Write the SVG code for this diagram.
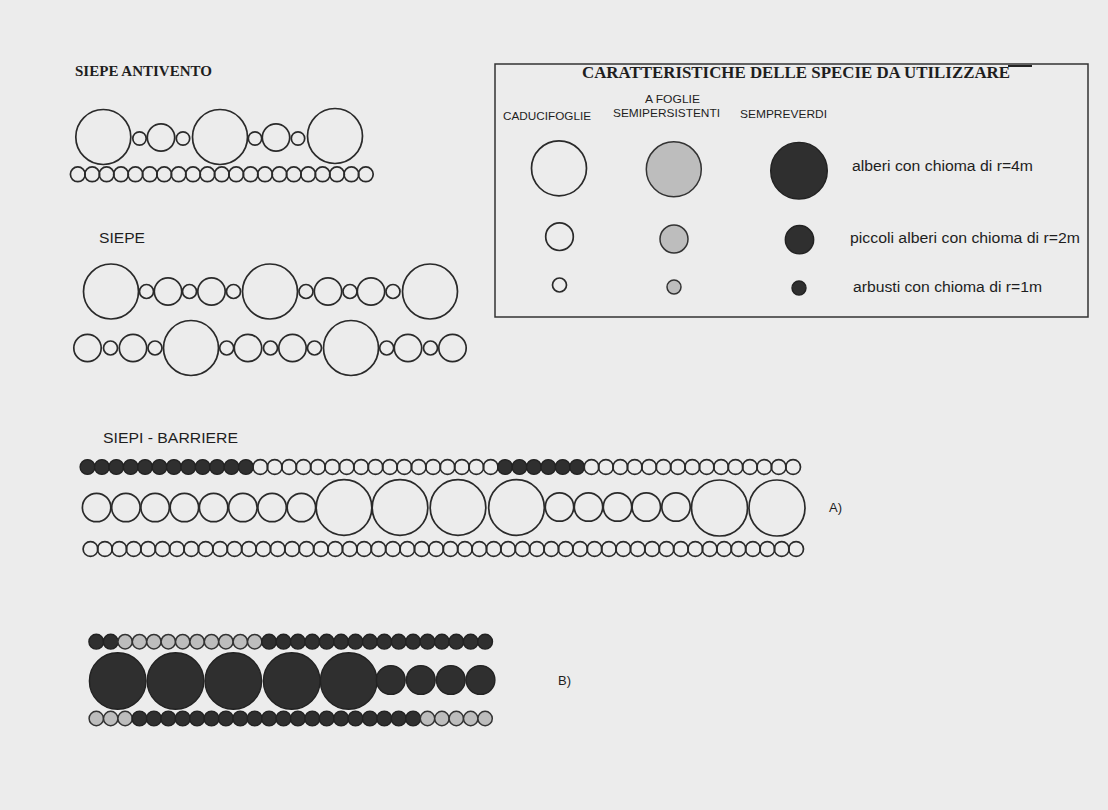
<svg xmlns="http://www.w3.org/2000/svg" width="1108" height="810" viewBox="0 0 1108 810">
<style>
.o{fill:none;stroke:#2a2a2a;stroke-width:1.7}
.d{fill:#2f2f2f;stroke:#222;stroke-width:1.4}
.g{fill:#bdbdbd;stroke:#333;stroke-width:1.5}
.sans{font-family:"Liberation Sans",Arial,sans-serif;fill:#1e1e1e}
.serif{font-family:"Liberation Serif","Times New Roman",serif;fill:#1e1e1e}
</style>
<rect width="1108" height="810" fill="#ececec"/>

<g id="siepe-antivento">
<text class="serif" x="75" y="76" font-size="15" font-weight="bold" textLength="137" lengthAdjust="spacingAndGlyphs">SIEPE ANTIVENTO</text>
<circle class="o" cx="103.3" cy="137" r="27.5"/><circle class="o" cx="220" cy="137" r="27.5"/><circle class="o" cx="335" cy="136" r="27.5"/>
<circle class="o" cx="139.5" cy="138.5" r="6.7"/><circle class="o" cx="183" cy="138.5" r="6.7"/><circle class="o" cx="255" cy="138.5" r="6.7"/><circle class="o" cx="298" cy="138.5" r="6.7"/>
<circle class="o" cx="161" cy="137.5" r="13.7"/><circle class="o" cx="276" cy="137.5" r="13.7"/>
<circle class="o" cx="77.8" cy="174.3" r="7.4"/><circle class="o" cx="92.2" cy="174.3" r="7.4"/><circle class="o" cx="106.6" cy="174.3" r="7.4"/><circle class="o" cx="121" cy="174.3" r="7.4"/><circle class="o" cx="135.4" cy="174.3" r="7.4"/><circle class="o" cx="149.8" cy="174.3" r="7.4"/><circle class="o" cx="164.2" cy="174.3" r="7.4"/><circle class="o" cx="178.6" cy="174.3" r="7.4"/><circle class="o" cx="193" cy="174.3" r="7.4"/><circle class="o" cx="207.4" cy="174.3" r="7.4"/><circle class="o" cx="221.8" cy="174.3" r="7.4"/><circle class="o" cx="236.2" cy="174.3" r="7.4"/><circle class="o" cx="250.6" cy="174.3" r="7.4"/><circle class="o" cx="265" cy="174.3" r="7.4"/><circle class="o" cx="279.4" cy="174.3" r="7.4"/><circle class="o" cx="293.8" cy="174.3" r="7.4"/><circle class="o" cx="308.2" cy="174.3" r="7.4"/><circle class="o" cx="322.6" cy="174.3" r="7.4"/><circle class="o" cx="337" cy="174.3" r="7.4"/><circle class="o" cx="351.4" cy="174.3" r="7.4"/><circle class="o" cx="365.8" cy="174.3" r="7.4"/>
</g>

<g id="siepe">
<text class="sans" x="99" y="243" font-size="15" textLength="46" lengthAdjust="spacingAndGlyphs">SIEPE</text>
<circle class="o" cx="111" cy="291.5" r="27.5"/><circle class="o" cx="270" cy="291.5" r="27.5"/><circle class="o" cx="430" cy="291.5" r="27.5"/>
<circle class="o" cx="146.5" cy="291.5" r="7"/><circle class="o" cx="189.5" cy="291.5" r="7"/><circle class="o" cx="233.5" cy="291.5" r="7"/><circle class="o" cx="306" cy="291.5" r="7"/><circle class="o" cx="350" cy="291.5" r="7"/><circle class="o" cx="393" cy="291.5" r="7"/>
<circle class="o" cx="168" cy="291.5" r="13.7"/><circle class="o" cx="211.5" cy="291.5" r="13.7"/><circle class="o" cx="328" cy="291.5" r="13.7"/><circle class="o" cx="371" cy="291.5" r="13.7"/>
<circle class="o" cx="87.5" cy="348" r="13.7"/><circle class="o" cx="133" cy="348" r="13.7"/><circle class="o" cx="248" cy="348" r="13.7"/><circle class="o" cx="292.5" cy="348" r="13.7"/><circle class="o" cx="408" cy="348" r="13.7"/><circle class="o" cx="452.5" cy="348" r="13.7"/>
<circle class="o" cx="110.5" cy="348" r="7"/><circle class="o" cx="155" cy="348" r="7"/><circle class="o" cx="226.7" cy="348" r="7"/><circle class="o" cx="270.5" cy="348" r="7"/><circle class="o" cx="314.5" cy="348" r="7"/><circle class="o" cx="386.7" cy="348" r="7"/><circle class="o" cx="430.5" cy="348" r="7"/>
<circle class="o" cx="191" cy="348" r="27.5"/><circle class="o" cx="351" cy="348" r="27.5"/>
</g>

<g id="siepi-barriere-A">
<text class="sans" x="103" y="443" font-size="14" textLength="135" lengthAdjust="spacingAndGlyphs">SIEPI - BARRIERE</text>
<circle class="d" cx="87.5" cy="467" r="7.4"/><circle class="d" cx="101.9" cy="467" r="7.4"/><circle class="d" cx="116.3" cy="467" r="7.4"/><circle class="d" cx="130.7" cy="467" r="7.4"/><circle class="d" cx="145.1" cy="467" r="7.4"/><circle class="d" cx="159.5" cy="467" r="7.4"/><circle class="d" cx="173.9" cy="467" r="7.4"/><circle class="d" cx="188.3" cy="467" r="7.4"/><circle class="d" cx="202.7" cy="467" r="7.4"/><circle class="d" cx="217.1" cy="467" r="7.4"/><circle class="d" cx="231.5" cy="467" r="7.4"/><circle class="d" cx="245.9" cy="467" r="7.4"/>
<circle class="o" cx="260.3" cy="467" r="7.4"/><circle class="o" cx="274.7" cy="467" r="7.4"/><circle class="o" cx="289.1" cy="467" r="7.4"/><circle class="o" cx="303.5" cy="467" r="7.4"/><circle class="o" cx="317.9" cy="467" r="7.4"/><circle class="o" cx="332.3" cy="467" r="7.4"/><circle class="o" cx="346.7" cy="467" r="7.4"/><circle class="o" cx="361.1" cy="467" r="7.4"/><circle class="o" cx="375.5" cy="467" r="7.4"/><circle class="o" cx="389.9" cy="467" r="7.4"/><circle class="o" cx="404.3" cy="467" r="7.4"/><circle class="o" cx="418.7" cy="467" r="7.4"/><circle class="o" cx="433.1" cy="467" r="7.4"/><circle class="o" cx="447.5" cy="467" r="7.4"/><circle class="o" cx="461.9" cy="467" r="7.4"/><circle class="o" cx="476.3" cy="467" r="7.4"/><circle class="o" cx="490.7" cy="467" r="7.4"/>
<circle class="d" cx="505.1" cy="467" r="7.4"/><circle class="d" cx="519.5" cy="467" r="7.4"/><circle class="d" cx="533.9" cy="467" r="7.4"/><circle class="d" cx="548.3" cy="467" r="7.4"/><circle class="d" cx="562.7" cy="467" r="7.4"/><circle class="d" cx="577.1" cy="467" r="7.4"/>
<circle class="o" cx="591.5" cy="467" r="7.4"/><circle class="o" cx="605.9" cy="467" r="7.4"/><circle class="o" cx="620.3" cy="467" r="7.4"/><circle class="o" cx="634.7" cy="467" r="7.4"/><circle class="o" cx="649.1" cy="467" r="7.4"/><circle class="o" cx="663.5" cy="467" r="7.4"/><circle class="o" cx="677.9" cy="467" r="7.4"/><circle class="o" cx="692.3" cy="467" r="7.4"/><circle class="o" cx="706.7" cy="467" r="7.4"/><circle class="o" cx="721.1" cy="467" r="7.4"/><circle class="o" cx="735.5" cy="467" r="7.4"/><circle class="o" cx="749.9" cy="467" r="7.4"/><circle class="o" cx="764.3" cy="467" r="7.4"/><circle class="o" cx="778.7" cy="467" r="7.4"/><circle class="o" cx="793.1" cy="467" r="7.4"/>
<circle class="o" cx="96.6" cy="507.5" r="14.2"/><circle class="o" cx="125.9" cy="507.5" r="14.2"/><circle class="o" cx="155.1" cy="507.5" r="14.2"/><circle class="o" cx="184.4" cy="507.5" r="14.2"/><circle class="o" cx="213.6" cy="507.5" r="14.2"/><circle class="o" cx="242.9" cy="507.5" r="14.2"/><circle class="o" cx="272.1" cy="507.5" r="14.2"/><circle class="o" cx="301.4" cy="507.5" r="14.2"/>
<circle class="o" cx="344" cy="507.5" r="27.8"/><circle class="o" cx="400" cy="507.5" r="27.8"/><circle class="o" cx="458" cy="507.5" r="27.8"/><circle class="o" cx="516.5" cy="507.5" r="27.8"/>
<circle class="o" cx="559.5" cy="507" r="14.2"/><circle class="o" cx="588.5" cy="507" r="14.2"/><circle class="o" cx="617.5" cy="507" r="14.2"/><circle class="o" cx="646.3" cy="507" r="14.2"/><circle class="o" cx="676" cy="507" r="14.2"/>
<circle class="o" cx="719.5" cy="508" r="28"/><circle class="o" cx="777" cy="508" r="28"/>
<circle class="o" cx="90.5" cy="549" r="7.4"/><circle class="o" cx="104.9" cy="549" r="7.4"/><circle class="o" cx="119.3" cy="549" r="7.4"/><circle class="o" cx="133.7" cy="549" r="7.4"/><circle class="o" cx="148.1" cy="549" r="7.4"/><circle class="o" cx="162.5" cy="549" r="7.4"/><circle class="o" cx="176.9" cy="549" r="7.4"/><circle class="o" cx="191.3" cy="549" r="7.4"/><circle class="o" cx="205.7" cy="549" r="7.4"/><circle class="o" cx="220.1" cy="549" r="7.4"/><circle class="o" cx="234.5" cy="549" r="7.4"/><circle class="o" cx="248.9" cy="549" r="7.4"/><circle class="o" cx="263.3" cy="549" r="7.4"/><circle class="o" cx="277.7" cy="549" r="7.4"/><circle class="o" cx="292.1" cy="549" r="7.4"/><circle class="o" cx="306.5" cy="549" r="7.4"/><circle class="o" cx="320.9" cy="549" r="7.4"/><circle class="o" cx="335.3" cy="549" r="7.4"/><circle class="o" cx="349.7" cy="549" r="7.4"/><circle class="o" cx="364.1" cy="549" r="7.4"/><circle class="o" cx="378.5" cy="549" r="7.4"/><circle class="o" cx="392.9" cy="549" r="7.4"/><circle class="o" cx="407.3" cy="549" r="7.4"/><circle class="o" cx="421.7" cy="549" r="7.4"/><circle class="o" cx="436.1" cy="549" r="7.4"/><circle class="o" cx="450.5" cy="549" r="7.4"/><circle class="o" cx="464.9" cy="549" r="7.4"/><circle class="o" cx="479.3" cy="549" r="7.4"/><circle class="o" cx="493.7" cy="549" r="7.4"/><circle class="o" cx="508.1" cy="549" r="7.4"/><circle class="o" cx="522.5" cy="549" r="7.4"/><circle class="o" cx="536.9" cy="549" r="7.4"/><circle class="o" cx="551.3" cy="549" r="7.4"/><circle class="o" cx="565.7" cy="549" r="7.4"/><circle class="o" cx="580.1" cy="549" r="7.4"/><circle class="o" cx="594.5" cy="549" r="7.4"/><circle class="o" cx="608.9" cy="549" r="7.4"/><circle class="o" cx="623.3" cy="549" r="7.4"/><circle class="o" cx="637.7" cy="549" r="7.4"/><circle class="o" cx="652.1" cy="549" r="7.4"/><circle class="o" cx="666.5" cy="549" r="7.4"/><circle class="o" cx="680.9" cy="549" r="7.4"/><circle class="o" cx="695.3" cy="549" r="7.4"/><circle class="o" cx="709.7" cy="549" r="7.4"/><circle class="o" cx="724.1" cy="549" r="7.4"/><circle class="o" cx="738.5" cy="549" r="7.4"/><circle class="o" cx="752.9" cy="549" r="7.4"/><circle class="o" cx="767.3" cy="549" r="7.4"/><circle class="o" cx="781.7" cy="549" r="7.4"/><circle class="o" cx="796.1" cy="549" r="7.4"/>
<text class="sans" x="829" y="512" font-size="13">A)</text>
</g>

<g id="siepi-barriere-B">
<circle class="d" cx="96.3" cy="641.7" r="7.4"/><circle class="d" cx="110.7" cy="641.7" r="7.4"/>
<circle class="g" cx="125.1" cy="641.7" r="7.2"/><circle class="g" cx="139.5" cy="641.7" r="7.2"/><circle class="g" cx="153.9" cy="641.7" r="7.2"/><circle class="g" cx="168.3" cy="641.7" r="7.2"/><circle class="g" cx="182.7" cy="641.7" r="7.2"/><circle class="g" cx="197.1" cy="641.7" r="7.2"/><circle class="g" cx="211.5" cy="641.7" r="7.2"/><circle class="g" cx="225.9" cy="641.7" r="7.2"/><circle class="g" cx="240.3" cy="641.7" r="7.2"/><circle class="g" cx="254.7" cy="641.7" r="7.2"/>
<circle class="d" cx="269.1" cy="641.7" r="7.4"/><circle class="d" cx="283.5" cy="641.7" r="7.4"/><circle class="d" cx="297.9" cy="641.7" r="7.4"/><circle class="d" cx="312.3" cy="641.7" r="7.4"/><circle class="d" cx="326.7" cy="641.7" r="7.4"/><circle class="d" cx="341.1" cy="641.7" r="7.4"/><circle class="d" cx="355.5" cy="641.7" r="7.4"/><circle class="d" cx="369.9" cy="641.7" r="7.4"/><circle class="d" cx="384.3" cy="641.7" r="7.4"/><circle class="d" cx="398.7" cy="641.7" r="7.4"/><circle class="d" cx="413.1" cy="641.7" r="7.4"/><circle class="d" cx="427.5" cy="641.7" r="7.4"/><circle class="d" cx="441.9" cy="641.7" r="7.4"/><circle class="d" cx="456.3" cy="641.7" r="7.4"/><circle class="d" cx="470.7" cy="641.7" r="7.4"/><circle class="d" cx="485.1" cy="641.7" r="7.4"/>
<circle class="d" cx="117.7" cy="681" r="28.3"/><circle class="d" cx="175.5" cy="681" r="28.3"/><circle class="d" cx="233.3" cy="681" r="28.3"/><circle class="d" cx="291.7" cy="681" r="28.3"/><circle class="d" cx="348.7" cy="681" r="28.3"/>
<circle class="d" cx="390.8" cy="680" r="14.4"/><circle class="d" cx="420.8" cy="680" r="14.4"/><circle class="d" cx="450.8" cy="680" r="14.4"/><circle class="d" cx="480.5" cy="680" r="14.4"/>
<circle class="g" cx="96.3" cy="718.5" r="7.2"/><circle class="g" cx="110.7" cy="718.5" r="7.2"/><circle class="g" cx="125.1" cy="718.5" r="7.2"/>
<circle class="d" cx="139.5" cy="718.5" r="7.4"/><circle class="d" cx="153.9" cy="718.5" r="7.4"/><circle class="d" cx="168.3" cy="718.5" r="7.4"/><circle class="d" cx="182.7" cy="718.5" r="7.4"/><circle class="d" cx="197.1" cy="718.5" r="7.4"/><circle class="d" cx="211.5" cy="718.5" r="7.4"/><circle class="d" cx="225.9" cy="718.5" r="7.4"/><circle class="d" cx="240.3" cy="718.5" r="7.4"/><circle class="d" cx="254.7" cy="718.5" r="7.4"/><circle class="d" cx="269.1" cy="718.5" r="7.4"/><circle class="d" cx="283.5" cy="718.5" r="7.4"/><circle class="d" cx="297.9" cy="718.5" r="7.4"/><circle class="d" cx="312.3" cy="718.5" r="7.4"/><circle class="d" cx="326.7" cy="718.5" r="7.4"/><circle class="d" cx="341.1" cy="718.5" r="7.4"/><circle class="d" cx="355.5" cy="718.5" r="7.4"/><circle class="d" cx="369.9" cy="718.5" r="7.4"/><circle class="d" cx="384.3" cy="718.5" r="7.4"/><circle class="d" cx="398.7" cy="718.5" r="7.4"/><circle class="d" cx="413.1" cy="718.5" r="7.4"/>
<circle class="g" cx="427.5" cy="718.5" r="7.2"/><circle class="g" cx="441.9" cy="718.5" r="7.2"/><circle class="g" cx="456.3" cy="718.5" r="7.2"/><circle class="g" cx="470.7" cy="718.5" r="7.2"/><circle class="g" cx="485.1" cy="718.5" r="7.2"/>
<text class="sans" x="558" y="685" font-size="13">B)</text>
</g>

<g id="legenda">
<rect x="495" y="64" width="593" height="253" fill="none" stroke="#333" stroke-width="1.5"/>
<line x1="1008" y1="66" x2="1032" y2="66" stroke="#222" stroke-width="2"/>
<text class="serif" x="582" y="78" font-size="16" font-weight="bold" textLength="428" lengthAdjust="spacingAndGlyphs">CARATTERISTICHE DELLE SPECIE DA UTILIZZARE</text>
<text class="sans" x="503" y="120" font-size="11" textLength="88" lengthAdjust="spacingAndGlyphs">CADUCIFOGLIE</text>
<text class="sans" x="645" y="103" font-size="11" textLength="55" lengthAdjust="spacingAndGlyphs">A FOGLIE</text>
<text class="sans" x="613" y="117" font-size="11" textLength="107" lengthAdjust="spacingAndGlyphs">SEMIPERSISTENTI</text>
<text class="sans" x="740" y="118" font-size="11" textLength="87" lengthAdjust="spacingAndGlyphs">SEMPREVERDI</text>
<circle class="o" cx="559" cy="168.3" r="27.5"/>
<circle class="g" cx="673.8" cy="169.3" r="27.5"/>
<circle class="d" cx="799" cy="170.7" r="28.3"/>
<circle class="o" cx="559.5" cy="236.7" r="13.8"/>
<circle class="g" cx="674" cy="239" r="14"/>
<circle class="d" cx="799.5" cy="239.7" r="14.2"/>
<circle class="o" cx="559.5" cy="285" r="7"/>
<circle class="g" cx="674" cy="287" r="7"/>
<circle class="d" cx="799" cy="288" r="7"/>
<text class="sans" x="852" y="171" font-size="14" textLength="181" lengthAdjust="spacingAndGlyphs">alberi con chioma di r=4m</text>
<text class="sans" x="850" y="243" font-size="14" textLength="230" lengthAdjust="spacingAndGlyphs">piccoli alberi con chioma di r=2m</text>
<text class="sans" x="853" y="291.5" font-size="14" textLength="189" lengthAdjust="spacingAndGlyphs">arbusti con chioma di r=1m</text>
</g>
</svg>
